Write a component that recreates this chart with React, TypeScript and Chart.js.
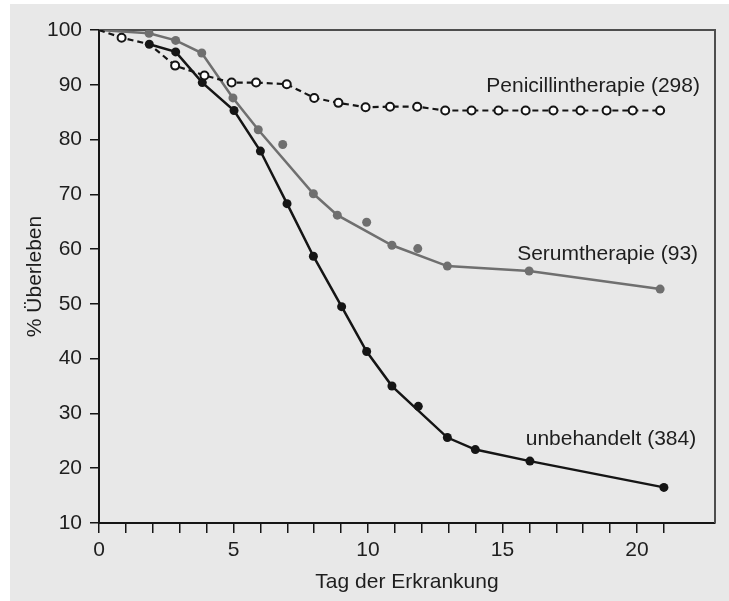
import React, { useEffect, useRef } from 'react';
import { Chart, registerables } from 'chart.js';

Chart.register(...registerables);

// ---- data ----
const xTickLabelValues = [0, 5, 10, 15, 20];
const yTickValues = [10, 20, 30, 40, 50, 60, 70, 80, 90, 100];

const penicillinDays = [0, 0.84, 1.87, 2.83, 3.92, 4.93, 5.84, 6.98, 8.0, 8.9, 9.91, 10.82, 11.83, 12.87, 13.85, 14.85, 15.86, 16.89, 17.9, 18.87, 19.84, 20.86];
const penicillinSurvival = [100, 98.6, 97.4, 93.5, 91.7, 90.4, 90.4, 90.1, 87.6, 86.7, 85.9, 86.0, 86.0, 85.3, 85.3, 85.3, 85.3, 85.3, 85.3, 85.3, 85.3, 85.3];
const penicillinMarked = [false, true, false, true, true, true, true, true, true, true, true, true, true, true, true, true, true, true, true, true, true, true];

const serumDays = [0, 1.86, 2.85, 3.82, 4.98, 5.92, 7.97, 8.86, 10.89, 12.95, 15.99, 20.86];
const serumSurvival = [100, 99.4, 98.1, 95.8, 87.6, 81.8, 70.1, 66.2, 60.7, 56.9, 56.0, 52.7];
const serumMarked = [false, true, true, true, true, true, true, true, true, true, true, true];
const serumExtraDays = [6.83, 9.95, 11.85];
const serumExtraSurvival = [79.1, 64.9, 60.1];

const untreatedDays = [1.87, 2.85, 3.84, 5.02, 6.0, 6.99, 7.97, 9.02, 9.95, 10.89, 12.95, 13.99, 16.02, 21.0];
const untreatedSurvival = [97.4, 96.0, 90.4, 85.3, 77.9, 68.3, 58.7, 49.5, 41.3, 35.0, 25.6, 23.4, 21.3, 16.5];
const untreatedExtraDays = [11.87];
const untreatedExtraSurvival = [31.3];

const curveLabels = ['Penicillintherapie (298)', 'Serumtherapie (93)', 'unbehandelt (384)'];
const curveLabelDays = [22.34, 22.27, 22.2];
const curveLabelSurvival = [89.8, 59.1, 25.3];

const xTitle = 'Tag der Erkrankung';
const yTitle = '% Überleben';

const toPoints = (xs: number[], ys: number[]) => xs.map((x, i) => ({ x, y: ys[i] }));

const FONT = '"Liberation Sans", Arial, Helvetica, sans-serif';
const BLACK = '#151515';
const GRAY = '#6f6f6f';
const BG = '#e8e8e8';

const decorPlugin = {
  id: 'decor',
  beforeDraw(chart: any) {
    const { ctx, width, height } = chart;
    ctx.save();
    ctx.fillStyle = '#ffffff';
    ctx.fillRect(0, 0, width, height);
    ctx.fillStyle = BG;
    ctx.fillRect(10, 4, width - 10, height - 4);
    ctx.restore();
  },
  beforeDatasetsDraw(chart: any) {
    const { ctx, chartArea } = chart;
    ctx.save();
    ctx.strokeStyle = '#4e4e4e';
    ctx.lineWidth = 2;
    ctx.beginPath();
    ctx.moveTo(chartArea.left, chartArea.top);
    ctx.lineTo(chartArea.right, chartArea.top);
    ctx.lineTo(chartArea.right, chartArea.bottom);
    ctx.stroke();
    ctx.restore();
  },
  afterDatasetsDraw(chart: any) {
    const { ctx, scales } = chart;
    ctx.save();
    ctx.fillStyle = '#1e1e1e';
    ctx.font = `21px ${FONT}`;
    ctx.textAlign = 'right';
    ctx.textBaseline = 'middle';
    curveLabels.forEach((t, i) => {
      ctx.fillText(t, scales.x.getPixelForValue(curveLabelDays[i]), scales.y.getPixelForValue(curveLabelSurvival[i]));
    });
    ctx.restore();
  },
};

export default function App() {
  const ref = useRef<HTMLCanvasElement | null>(null);

  useEffect(() => {
    if (!ref.current) return;
    const chart = new Chart(ref.current, {
      type: 'scatter',
      data: {
        datasets: [
          {
            label: 'Penicillintherapie',
            data: toPoints(penicillinDays, penicillinSurvival),
            showLine: true,
            borderColor: BLACK,
            borderWidth: 2.2,
            borderDash: [6, 4],
            pointRadius: (c: any) => (penicillinMarked[c.dataIndex] ? 4 : 0),
            pointBackgroundColor: '#ffffff',
            pointBorderColor: BLACK,
            pointBorderWidth: 2,
          },
          {
            label: 'unbehandelt',
            data: toPoints(untreatedDays, untreatedSurvival),
            showLine: true,
            borderColor: BLACK,
            borderWidth: 2.5,
            pointRadius: 4.5,
            pointBackgroundColor: BLACK,
            pointBorderWidth: 0,
          },
          {
            label: 'unbehandelt extra',
            data: toPoints(untreatedExtraDays, untreatedExtraSurvival),
            showLine: false,
            pointRadius: 4.5,
            pointBackgroundColor: BLACK,
            pointBorderWidth: 0,
          },
          {
            label: 'Serumtherapie',
            data: toPoints(serumDays, serumSurvival),
            showLine: true,
            borderColor: GRAY,
            borderWidth: 2.5,
            pointRadius: (c: any) => (serumMarked[c.dataIndex] ? 4.5 : 0),
            pointBackgroundColor: GRAY,
            pointBorderWidth: 0,
          },
          {
            label: 'Serumtherapie extra',
            data: toPoints(serumExtraDays, serumExtraSurvival),
            showLine: false,
            pointRadius: 4.5,
            pointBackgroundColor: GRAY,
            pointBorderWidth: 0,
          },
        ],
      },
      options: {
        animation: false,
        responsive: false,
        events: [],
        layout: { padding: { left: 0, top: 30, right: 14, bottom: 0 } },
        plugins: { legend: { display: false }, tooltip: { enabled: false }, title: { display: false } },
        scales: {
          x: {
            type: 'linear',
            min: 0,
            max: 22.9,
            afterBuildTicks: (s: any) => {
              s.ticks = s.ticks.filter((t: any) => Number.isInteger(t.value));
            },
            afterFit: (s: any) => {
              s.height = 78;
            },
            ticks: {
              stepSize: 1,
              autoSkip: false,
              maxRotation: 0,
              padding: 5,
              color: '#1e1e1e',
              font: { family: FONT, size: 21 },
              callback: (v: any) => (xTickLabelValues.includes(Number(v)) ? String(v) : ''),
            },
            grid: { drawOnChartArea: false, drawTicks: true, tickLength: 10, color: BLACK, lineWidth: 1.5 },
            border: { display: true, color: BLACK, width: 2 },
            title: { display: true, text: xTitle, color: '#1e1e1e', font: { family: FONT, size: 21 }, padding: { top: 0, bottom: 6 } },
          },
          y: {
            type: 'linear',
            min: 10,
            max: 100,
            afterBuildTicks: (s: any) => {
              s.ticks = yTickValues.map((v) => ({ value: v }));
            },
            afterFit: (s: any) => {
              s.width = 99;
            },
            ticks: {
              stepSize: 10,
              autoSkip: false,
              padding: 8,
              color: '#1e1e1e',
              font: { family: FONT, size: 21 },
            },
            grid: { drawOnChartArea: false, drawTicks: true, tickLength: 9, color: BLACK, lineWidth: 1.5 },
            border: { display: true, color: BLACK, width: 2 },
            title: { display: true, text: yTitle, color: '#1e1e1e', font: { family: FONT, size: 21 }, padding: { top: 23, bottom: 0 } },
          },
        },
      },
      plugins: [decorPlugin],
    } as any);
    return () => chart.destroy();
  }, []);

  return (
    <div style={{ position: 'absolute', left: 0, top: 0, width: 729, height: 601 }}>
      <canvas ref={ref} width={729} height={601} style={{ display: 'block', width: 729, height: 601 }} />
    </div>
  );
}
